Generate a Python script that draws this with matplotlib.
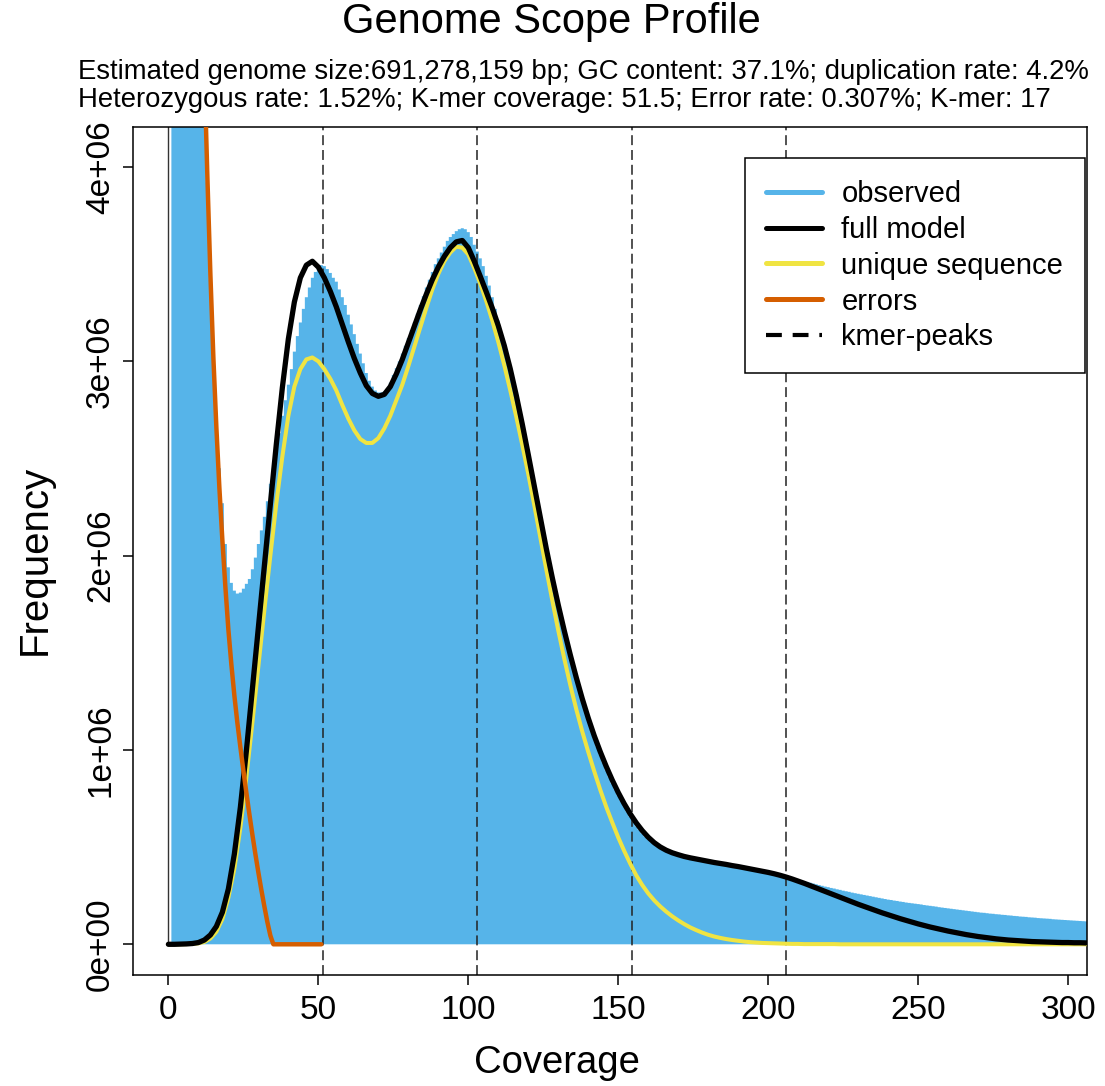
import matplotlib
matplotlib.use("Agg")
import matplotlib.pyplot as plt
from matplotlib.lines import Line2D
from matplotlib.ticker import FuncFormatter, FixedLocator
import numpy as np

plt.rcParams['font.family'] = ['Liberation Sans', 'DejaVu Sans']

# ---- k-mer histogram (frequency in millions, coverage 1..307) ----
observed_cov = list(range(1, 308))
observed_m = [
    95.0, 38.0, 19.5, 13.6, 10.8, 9.2, 8.1, 7.2, 6.4, 5.6,          # 1-10
    5.0, 4.45, 3.92, 3.42, 3.02, 2.70, 2.45, 2.27, 2.06, 1.94,       # 11-20
    1.86, 1.82, 1.805, 1.81, 1.83, 1.855, 1.88, 1.93, 1.99, 2.06,    # 21-30
    2.13, 2.20, 2.28, 2.37, 2.45, 2.54, 2.63, 2.72, 2.80, 2.88,      # 31-40
    2.96, 3.05, 3.13, 3.20, 3.27, 3.33, 3.38, 3.43, 3.46, 3.48,      # 41-50
    3.495, 3.49, 3.475, 3.455, 3.43, 3.41, 3.37, 3.33, 3.29, 3.24,   # 51-60
    3.19, 3.14, 3.09, 3.04, 2.99, 2.94, 2.90, 2.87, 2.85, 2.84,      # 61-70
    2.84, 2.845, 2.86, 2.89, 2.93, 2.965, 3.00, 3.04, 3.08, 3.12,    # 71-80
    3.16, 3.20, 3.245, 3.29, 3.335, 3.38, 3.42, 3.46, 3.50, 3.53,    # 81-90
    3.56, 3.59, 3.62, 3.64, 3.655, 3.67, 3.68, 3.685, 3.68, 3.665,   # 91-100
    3.64, 3.60, 3.565, 3.53, 3.49, 3.44, 3.39, 3.33, 3.27, 3.21,     # 101-110
    3.145, 3.08, 3.02, 2.955, 2.885, 2.815, 2.745, 2.675, 2.60, 2.53,  # 111-120
    2.445, 2.365, 2.28, 2.195, 2.11, 2.025, 1.95, 1.88, 1.815, 1.755,  # 121-130
    1.69, 1.63, 1.565, 1.505, 1.445, 1.385, 1.325, 1.27, 1.215, 1.16,  # 131-140
    1.11, 1.06, 1.015, 0.975, 0.935, 0.895, 0.86, 0.825, 0.795, 0.765,  # 141-150
    0.737, 0.71, 0.682, 0.655, 0.63, 0.607, 0.588, 0.57, 0.553, 0.538,  # 151-160
    0.525, 0.513, 0.503, 0.495, 0.488, 0.482, 0.477, 0.472, 0.467, 0.463,  # 161-170
    0.459, 0.455, 0.451, 0.448, 0.444, 0.441, 0.437, 0.434, 0.431, 0.428,  # 171-180
    0.425, 0.422, 0.419, 0.416, 0.413, 0.41, 0.407, 0.404, 0.401, 0.398,  # 181-190
    0.395, 0.392, 0.389, 0.386, 0.383, 0.38, 0.377, 0.374, 0.371, 0.368,  # 191-200
    0.365, 0.362, 0.359, 0.356, 0.353, 0.349, 0.345, 0.341, 0.337, 0.333,  # 201-210
    0.329, 0.325, 0.321, 0.317, 0.313, 0.309, 0.305, 0.301, 0.297, 0.294,  # 211-220
    0.29, 0.287, 0.283, 0.28, 0.276, 0.273, 0.27, 0.266, 0.263, 0.26,  # 221-230
    0.257, 0.254, 0.251, 0.248, 0.245, 0.242, 0.239, 0.236, 0.233, 0.23,  # 231-240
    0.228, 0.225, 0.223, 0.22, 0.218, 0.215, 0.213, 0.211, 0.209, 0.207,  # 241-250
    0.205, 0.202, 0.2, 0.198, 0.196, 0.194, 0.191, 0.189, 0.187, 0.185,  # 251-260
    0.183, 0.181, 0.179, 0.177, 0.175, 0.173, 0.171, 0.169, 0.167, 0.165,  # 261-270
    0.163, 0.162, 0.16, 0.158, 0.157, 0.155, 0.154, 0.152, 0.151, 0.149,  # 271-280
    0.148, 0.146, 0.145, 0.143, 0.142, 0.141, 0.139, 0.138, 0.137, 0.135,  # 281-290
    0.134, 0.133, 0.132, 0.131, 0.129, 0.128, 0.127, 0.126, 0.125, 0.124,  # 291-300
    0.123, 0.122, 0.121, 0.12, 0.119, 0.118, 0.117,                  # 301-307
]

# ---- fitted model curves (millions), sampled every 2x of coverage ----
model_cov = list(range(0, 308, 2))
full_model_m = [
    0.0, 0.0, 0.001, 0.002, 0.004, 0.009, 0.022, 0.048, 0.092, 0.165,  # 0-18
    0.285, 0.465, 0.705, 0.995, 1.31, 1.63, 1.95, 2.265, 2.575, 2.865,  # 20-38
    3.115, 3.305, 3.43, 3.495, 3.515, 3.485, 3.43, 3.36, 3.28, 3.19,   # 40-58
    3.10, 3.015, 2.94, 2.875, 2.835, 2.82, 2.83, 2.87, 2.935, 3.01,    # 60-78
    3.095, 3.18, 3.265, 3.345, 3.42, 3.485, 3.54, 3.585, 3.615, 3.622,  # 80-98
    3.585, 3.515, 3.437, 3.357, 3.274, 3.184, 3.081, 2.961, 2.825, 2.677,  # 100-118
    2.52, 2.358, 2.195, 2.037, 1.887, 1.746, 1.614, 1.49, 1.373, 1.264,  # 120-138
    1.164, 1.073, 0.991, 0.915, 0.845, 0.781, 0.723, 0.671, 0.625, 0.585,  # 140-158
    0.551, 0.523, 0.501, 0.484, 0.471, 0.461, 0.452, 0.445, 0.439, 0.433,  # 160-178
    0.427, 0.421, 0.416, 0.411, 0.405, 0.40, 0.394, 0.388, 0.382, 0.376,  # 180-198
    0.37, 0.363, 0.355, 0.346, 0.336, 0.325, 0.314, 0.302, 0.29, 0.278,  # 200-218
    0.266, 0.254, 0.242, 0.230, 0.218, 0.206, 0.195, 0.184, 0.173, 0.162,  # 220-238
    0.152, 0.142, 0.132, 0.123, 0.114, 0.105, 0.097, 0.089, 0.082, 0.075,  # 240-258
    0.068, 0.062, 0.056, 0.050, 0.045, 0.040, 0.036, 0.032, 0.028, 0.025,  # 260-278
    0.022, 0.020, 0.018, 0.016, 0.014, 0.013, 0.012, 0.011, 0.010, 0.009,  # 280-298
    0.009, 0.008, 0.008, 0.007,                                        # 300-306
]
unique_seq_m = [
    0.0, 0.0, 0.0, 0.001, 0.002, 0.005, 0.012, 0.03, 0.065, 0.13,     # 0-18
    0.24, 0.39, 0.60, 0.86, 1.14, 1.43, 1.72, 2.00, 2.27, 2.51,       # 20-38
    2.72, 2.87, 2.96, 3.01, 3.02, 3.00, 2.96, 2.91, 2.85, 2.775,      # 40-58
    2.705, 2.645, 2.60, 2.58, 2.58, 2.605, 2.655, 2.72, 2.80, 2.88,   # 60-78
    2.975, 3.075, 3.175, 3.275, 3.37, 3.45, 3.515, 3.56, 3.59, 3.585,  # 80-98
    3.55, 3.48, 3.40, 3.31, 3.21, 3.10, 2.98, 2.85, 2.715, 2.57,      # 100-118
    2.42, 2.26, 2.095, 1.93, 1.77, 1.615, 1.47, 1.335, 1.21, 1.095,   # 120-138
    0.99, 0.89, 0.795, 0.707, 0.627, 0.55, 0.48, 0.415, 0.355, 0.305,  # 140-158
    0.262, 0.226, 0.195, 0.168, 0.144, 0.123, 0.104, 0.087, 0.073, 0.06,  # 160-178
    0.049, 0.04, 0.033, 0.027, 0.022, 0.018, 0.014, 0.011, 0.009, 0.007,  # 180-198
    0.006, 0.005, 0.004, 0.003, 0.002, 0.002, 0.001, 0.001, 0.001, 0.001,  # 200-218
    0.001, 0.001, 0.0, 0.0, 0.0, 0.0, 0.0, 0.0, 0.0, 0.0,             # 220-238
    0.0, 0.0, 0.0, 0.0, 0.0, 0.0, 0.0, 0.0, 0.0, 0.0,                 # 240-258
    0.0, 0.0, 0.0, 0.0, 0.0, 0.0, 0.0, 0.0, 0.0, 0.0,                 # 260-278
    0.0, 0.0, 0.0, 0.0, 0.0, 0.0, 0.0, 0.0, 0.0, 0.0,                 # 280-298
    0.0, 0.0, 0.0, 0.0,                                               # 300-306
]

# ---- error k-mers (millions), coverage 10..51 ----
error_cov = list(range(10, 52))
errors_m = [
    5.9, 5.1, 4.5, 3.95, 3.45, 3.02, 2.66, 2.35, 2.08, 1.84,     # 10-19
    1.62, 1.44, 1.28, 1.14, 1.015, 0.895, 0.78, 0.67, 0.565, 0.465,  # 20-29
    0.37, 0.28, 0.195, 0.115, 0.045, 0.0, 0.0, 0.0, 0.0, 0.0,    # 30-39
    0.0, 0.0, 0.0, 0.0, 0.0, 0.0, 0.0, 0.0, 0.0, 0.0,            # 40-49
    0.0, 0.0,                                                    # 50-51
]

kmer_cov = 51.5
kmer_peaks = [kmer_cov * k for k in (1, 2, 3, 4)]

title = "Genome Scope Profile"
subtitle_1 = ("Estimated genome size:691,278,159 bp; GC content: 37.1%; "
              "duplication rate: 4.2%")
subtitle_2 = ("Heterozygous rate: 1.52%; K-mer coverage: 51.5; "
              "Error rate: 0.307%; K-mer: 17")
legend_labels = ["observed", "full model", "unique sequence", "errors", "kmer-peaks"]
x_ticks = [0, 50, 100, 150, 200, 250, 300]
y_ticks = [0, 1e6, 2e6, 3e6, 4e6]

C_OBS = "#56B4E9"
C_FULL = "#000000"
C_UNIQUE = "#F0E442"
C_ERR = "#D55E00"

SCALE = 1e6
obs = np.array(observed_m) * SCALE
full = np.array(full_model_m) * SCALE
uniq = np.array(unique_seq_m) * SCALE
errs = np.array(errors_m) * SCALE

W, H = 1105, 1086
fig = plt.figure(figsize=(W / 100, H / 100), dpi=100)
ax = fig.add_axes([133 / W, 1 - 975 / H, 954 / W, 848 / H])

XLIM = (-11.8, 306.3)
YLIM = (-0.158e6, 4.206e6)
ax.set_xlim(*XLIM)
ax.set_ylim(*YLIM)

# observed histogram as adjacent columns
ax.fill_between(observed_cov, obs, step="mid", color=C_OBS, lw=0, zorder=1)
ax.axvline(0, ymin=(0 - YLIM[0]) / (YLIM[1] - YLIM[0]), color="#333333",
           lw=1.0, zorder=1.5)

for pk in kmer_peaks:
    ax.axvline(pk, color="#222222", lw=1.1, linestyle=(0, (6.5, 3.2)), zorder=2)

ax.plot(model_cov, uniq, color=C_UNIQUE, lw=2.9, solid_capstyle="round",
        solid_joinstyle="round", zorder=3)
ax.plot(model_cov, full, color=C_FULL, lw=3.8, solid_capstyle="round",
        solid_joinstyle="round", zorder=4)
ax.plot(error_cov, errs, color=C_ERR, lw=3.2, solid_capstyle="round",
        solid_joinstyle="round", zorder=5)

# axes styling
for sp in ax.spines.values():
    sp.set_linewidth(1.1)
    sp.set_color("black")
ax.xaxis.set_major_locator(FixedLocator(x_ticks))
ax.yaxis.set_major_locator(FixedLocator(y_ticks))
ax.yaxis.set_major_formatter(FuncFormatter(lambda v, p: format(v, ".0e")))
ax.tick_params(axis="both", direction="out", length=7.2, width=1.1,
               labelsize=24, colors="black")
ax.tick_params(axis="x", pad=7)
ax.tick_params(axis="y", pad=5)
for lab in ax.get_yticklabels():
    lab.set_rotation(90)
    lab.set_va("center")

# legend
handles = [
    Line2D([], [], color=C_OBS, lw=3.6, solid_capstyle="round"),
    Line2D([], [], color=C_FULL, lw=3.6, solid_capstyle="round"),
    Line2D([], [], color=C_UNIQUE, lw=3.6, solid_capstyle="round"),
    Line2D([], [], color=C_ERR, lw=3.6, solid_capstyle="round"),
    Line2D([], [], color="black", lw=3.0, linestyle=(0, (3.8, 2.6))),
]
leg = ax.legend(handles, legend_labels, loc="upper right",
                bbox_to_anchor=(0.998, 0.9634), borderaxespad=0,
                fontsize=21, frameon=True, fancybox=False, framealpha=1,
                edgecolor="black", handlelength=1.92, handletextpad=0.65,
                borderpad=0.75, labelspacing=0.27)
leg.get_frame().set_linewidth(1.1)
leg.set_zorder(10)

# titles and axis labels
fig.text(551 / W, 1 - 22 / H, title, ha="center", va="center", fontsize=30)
fig.text(78 / W, 1 - 72 / H, subtitle_1, ha="left", va="center", fontsize=19.8)
fig.text(78 / W, 1 - 100 / H, subtitle_2, ha="left", va="center", fontsize=19.8)
fig.text(35 / W, 1 - 560 / H, "Frequency", ha="center", va="center",
         rotation=90, fontsize=29)
fig.text(557 / W, 1 - 1063 / H, "Coverage", ha="center", va="center",
         fontsize=27.5)

fig.savefig("out.png", dpi=100, facecolor="white")
